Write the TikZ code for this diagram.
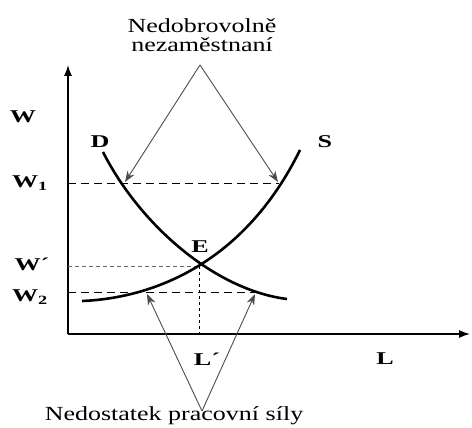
\documentclass[tikz,border=0pt]{standalone}
\usepackage{fontspec}
\setmainfont{Liberation Serif}
\usetikzlibrary{arrows.meta}

\tikzset{
	lbl/.style={font=\bfseries\fontsize{18}{20}\selectfont, xscale=1.45, transform shape, inner sep=0pt},
	note/.style={font=\fontsize{20}{19}\selectfont, xscale=1.3, transform shape, align=center, inner sep=0pt},
	curve/.style={line width=2.6pt},
	pointer/.style={draw=black!70, line width=0.9pt, -{Stealth[length=11pt, width=8pt]}}
}

\begin{document}
\begin{tikzpicture}[x=1pt, y=-1pt]
		\useasboundingbox (0,0) rectangle (472,428);
		
		\coordinate (O) at (68,334);
		\coordinate (Ytop) at (68,65);
		\coordinate (Xend) at (470,334);
		\coordinate (E) at (199,266);
		
		% axes
		\draw[line width=1.3pt, -{Latex[length=11pt, width=8pt]}] (O) -- (Ytop);
		\draw[line width=1.3pt, -{Latex[length=11pt, width=8pt]}] (O) -- (Xend);
		
		% guide lines
		\draw[dashed, line width=1pt, dash pattern=on 8pt off 5pt] (68,183) -- (279,183);
		\draw[dashed, line width=0.7pt, black!60, dash pattern=on 4pt off 3pt] (68,266) -- (E);
		\draw[dashed, line width=1pt, dash pattern=on 8pt off 5pt] (68,292) -- (257,292);
		\draw[line width=1pt, dash pattern=on 3pt off 3pt] (E) -- (199,334);
		
		% demand and supply
		\draw[curve] (103,152) .. controls (140,225) and (215,290) .. (287,299);
		\draw[curve] (82,301) .. controls (155,298) and (245,262) .. (300,150);
		
		% labels
		\node[lbl] (w) at (23,117) {W};
		\node[lbl] (d) at (100,142) {D};
		\node[lbl] (s) at (325,142) {S};
		\node[lbl] (w1) at (30,183) {W\textsubscript{1}};
		\node[lbl] (e) at (200,247) {E};
		\node[lbl] (w0) at (32,264) {W´};
		\node[lbl] (w2) at (30,297) {W\textsubscript{2}};
		\node[lbl] (l0) at (207,359) {L´};
		\node[lbl] (l) at (385,359) {L};
		
		% notes with pointers
		\node[note] (top) at (202,35) {Nedobrovolně\\nezaměstnaní};
		\coordinate (topapex) at (200,65);
		\coordinate (topleft) at (125,182);
		\coordinate (topright) at (278,182);
		\draw[pointer] (topapex) -- (topleft);
		\draw[pointer] (topapex) -- (topright);
		
		\node[note] (bottom) at (174,416) {Nedostatek pracovní síly};
		\coordinate (botapex) at (202,411);
		\coordinate (botleft) at (147,294);
		\coordinate (botright) at (255,294);
		\draw[pointer] (botapex) -- (botleft);
		\draw[pointer] (botapex) -- (botright);
	\end{tikzpicture}
\end{document}
